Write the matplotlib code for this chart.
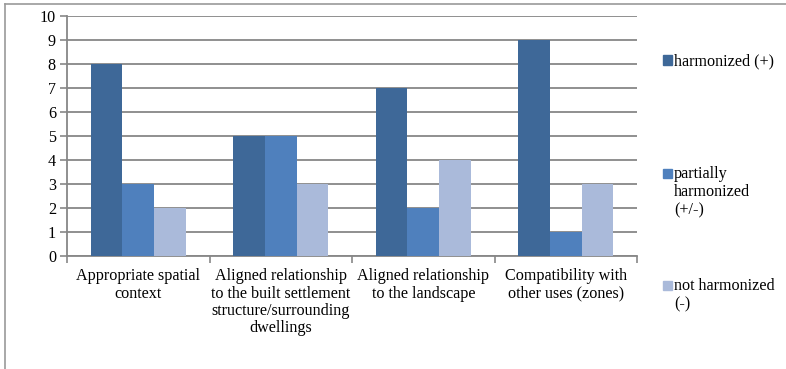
import numpy as np
import matplotlib.pyplot as plt
from matplotlib.lines import Line2D

plt.rcParams['font.family'] = ['Liberation Serif', 'DejaVu Serif']

# data
categories = ['Appropriate spatial\ncontext',
              'Aligned relationship\nto the built settlement\nstructure/surrounding\ndwellings',
              'Aligned relationship\nto the landscape',
              'Compatibility with\nother uses (zones)']
series_names = ['harmonized (+)', 'partially\nharmonized\n(+/-)', 'not harmonized\n(-)']
harmonized = [8, 5, 7, 9]
partially = [3, 5, 2, 1]
not_harmonized = [2, 3, 4, 3]
colors = ['#3E6898', '#4F80BD', '#AABADA']

fs = 11.6

fig = plt.figure(figsize=(7.86, 3.69), dpi=100)
ax = fig.add_axes([67 / 786, 1 - 256 / 369, 570 / 786, 240 / 369])

x = np.arange(len(categories))
w = 1 / 4.5
for i, vals in enumerate([harmonized, partially, not_harmonized]):
    ax.bar(x + (i - 1) * w, vals, width=w, color=colors[i], zorder=3)

ax.set_xlim(-0.5, 3.5)
ax.set_ylim(0, 10)
ax.set_yticks(range(0, 11))
ax.yaxis.grid(True, color='#878787', linewidth=1.3, zorder=0)
ax.tick_params(axis='y', length=5, color='#878787', width=1.2, labelsize=fs, pad=3)

ax.set_xticks(x)
ax.set_xticklabels(categories, fontsize=fs, linespacing=1.1)
ax.tick_params(axis='x', which='major', length=0, pad=9)
ax.set_xticks(np.arange(-0.5, 4, 1), minor=True)
ax.tick_params(axis='x', which='minor', length=5, color='#878787', width=1.2)

for s in ['top', 'right']:
    ax.spines[s].set_visible(False)
for s in ['left', 'bottom']:
    ax.spines[s].set_color('#878787')
    ax.spines[s].set_linewidth(1.3)

# legend entries
leg_y = [60, 173, 285]
for name, c, yy in zip(series_names, colors, leg_y):
    fy = 1 - yy / 369
    fig.patches.append(plt.Rectangle((663 / 786, fy - 4.5 / 369), 9 / 786, 9 / 369,
                                     transform=fig.transFigure, color=c))
    fig.text(674 / 786, fy + 7 / 369, name, fontsize=fs, va='top', ha='left',
             linespacing=1.2)

# outer frame (top and left)
fig.add_artist(Line2D([5 / 786, 1], [1 - 4 / 369, 1 - 4 / 369], color='#9a9a9a', lw=1.2))
fig.add_artist(Line2D([5 / 786, 5 / 786], [0, 1 - 4 / 369], color='#9a9a9a', lw=1.2))

fig.savefig('out.png', dpi=100)
